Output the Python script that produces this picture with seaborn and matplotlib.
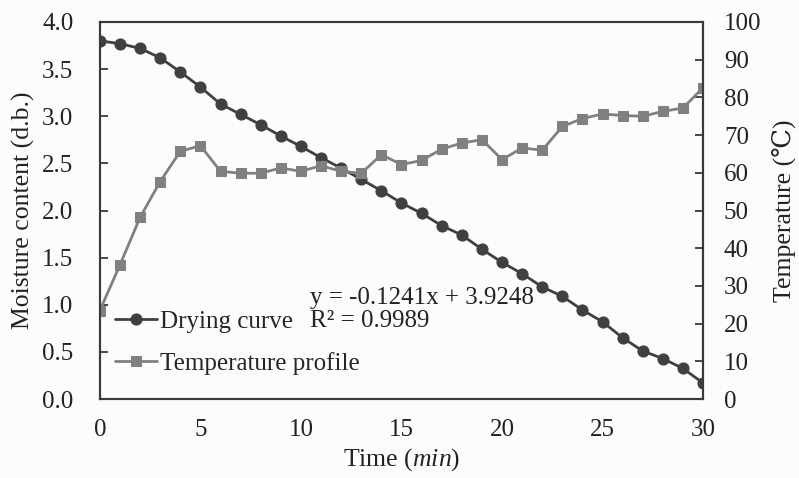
import matplotlib
matplotlib.use("Agg")
import matplotlib.pyplot as plt
import seaborn as sns
import pandas as pd

time_min = list(range(0, 31))
moisture = [3.80, 3.77, 3.72, 3.62, 3.47, 3.31, 3.13, 3.02, 2.91, 2.79, 2.68,
            2.56, 2.45, 2.33, 2.21, 2.08, 1.97, 1.84, 1.74, 1.59, 1.45,
            1.33, 1.19, 1.09, 0.945, 0.82, 0.65, 0.51, 0.43, 0.325, 0.17]
temperature = [23.5, 35.6, 48.2, 57.7, 65.7, 67.2, 60.4, 59.9, 59.9, 61.3, 60.4,
               61.9, 60.4, 59.9, 64.8, 62.2, 63.3, 66.3, 67.9, 68.8, 63.5,
               66.6, 66.0, 72.3, 74.4, 75.6, 75.2, 75.0, 76.3, 77.2, 82.6]
x_ticks = [0, 5, 10, 15, 20, 25, 30]
y_ticks = [0.0, 0.5, 1.0, 1.5, 2.0, 2.5, 3.0, 3.5, 4.0]
y2_ticks = [0, 10, 20, 30, 40, 50, 60, 70, 80, 90, 100]

df = pd.DataFrame({"t": time_min, "m": moisture, "T": temperature})

sns.set_style("white")
plt.rcParams["font.family"] = ["Liberation Serif", "DejaVu Serif"]
plt.rcParams["mathtext.fontset"] = "custom"
plt.rcParams["mathtext.it"] = "Liberation Serif:italic"
plt.rcParams["mathtext.rm"] = "Liberation Serif"

FS_TICK = 18
FS_LAB = 18.5
FS_TXT = 18
dark = "#404040"
grey = "#808080"
spine_c = "#3a3a3a"
txt_c = "#222222"

fig = plt.figure(figsize=(7.99, 4.78), dpi=100, facecolor="#fcfcfc")
ax = fig.add_axes([0.125, 0.165, 0.755, 0.789])
ax.set_facecolor("#fcfcfc")
ax2 = ax.twinx()

sns.lineplot(data=df, x="t", y="m", ax=ax, color=dark, marker="o",
             markersize=8, linewidth=2.0, markeredgecolor=dark,
             label="Drying curve", legend=False)
sns.lineplot(data=df, x="t", y="T", ax=ax2, color=grey, marker="s",
             markersize=7, linewidth=2.0, markeredgecolor=grey,
             label="Temperature profile", legend=False)

ax.set_xlim(0, 30)
ax.set_ylim(0, 4.0)
ax2.set_ylim(0, 100)
ax.set_xticks(x_ticks)
ax.set_yticks(y_ticks)
ax.set_yticklabels([f"{v:.1f}" for v in y_ticks])
ax2.set_yticks(y2_ticks)

for a in (ax, ax2):
    for s in a.spines.values():
        s.set_visible(True)
        s.set_color(spine_c)
        s.set_linewidth(1.5)
    a.tick_params(direction="in", length=6, width=1.3, color=spine_c,
                  labelsize=FS_TICK, labelcolor=txt_c)
ax.tick_params(axis="x", pad=14)
ax.tick_params(axis="y", pad=19)
ax2.tick_params(axis="y", pad=15)

ax.set_xlabel("Time ($\\mathit{min}$)", fontsize=FS_LAB, color=txt_c, labelpad=4)
ax.set_ylabel("Moisture content (d.b.)", fontsize=FS_LAB, color=txt_c, labelpad=5)
ax2.set_ylabel("Temperature (℃)", fontsize=FS_LAB, color=txt_c, labelpad=7)

ax.text(10.45, 1.07, "y = -0.1241x + 3.9248", fontsize=FS_TXT, color=txt_c,
        va="center", ha="left")
ax.text(10.45, 0.83, "R² = 0.9989", fontsize=FS_TXT, color=txt_c,
        va="center", ha="left")

h1, l1 = ax.get_legend_handles_labels()
h2, l2 = ax2.get_legend_handles_labels()
ax2.legend(h1 + h2, l1 + l2, loc="upper left", bbox_to_anchor=(-0.004, 0.282),
           frameon=False, fontsize=FS_TXT, handlelength=1.68, handletextpad=0.12,
           labelspacing=0.75, borderaxespad=0.3)

fig.savefig("out.png", dpi=100, facecolor=fig.get_facecolor())
